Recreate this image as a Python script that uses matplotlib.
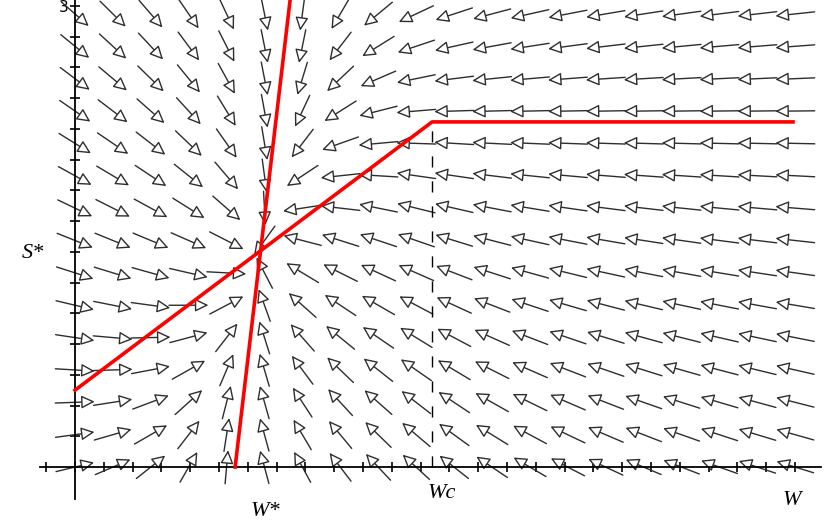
import numpy as np
import matplotlib.pyplot as plt
from matplotlib.patches import FancyArrowPatch

# red nullclines (W on x, S on y)
w_null_W = [5.56, 7.47]          # dW/dt = 0 (steep line)
w_null_S = [0.0, 3.04]
s_null_W = [0.0, 12.4, 24.93]    # dS/dt = 0 (rising line, then flat)
s_null_S = [0.50, 2.245, 2.245]
W_c = 12.4

# direction field grid (20 x 20, like the original plot)
grid_W = np.linspace(0, 25, 20)
grid_S = np.linspace(0, 4, 20)
rate_W, rate_S = 1.0, 0.5

# label positions
labels = ['S*', 'W*', 'Wc', 'W']
label_W = [-1.46, 6.6, 12.75, 24.9]
label_S = [1.386, -0.29, -0.17, -0.215]

fig = plt.figure(figsize=(8.27, 5.27), dpi=100)
ax = fig.add_axes([0, 0, 1, 1])
ax.set_xlim(-2.604, 26.11)
ax.set_ylim(-0.390, 3.038)

# axes through the origin
for s in ['top', 'right']:
    ax.spines[s].set_visible(False)
ax.spines['left'].set_position(('data', 0))
ax.spines['bottom'].set_position(('data', 0))
ax.spines['left'].set_bounds(-0.21, 3.1)
ax.spines['bottom'].set_bounds(-1.2, 25.9)
for s in ['left', 'bottom']:
    ax.spines[s].set_linewidth(1.3)
ax.set_xticks(range(-1, 26))
ax.set_xticklabels([])
yt = np.arange(0, 3.01, 0.2)
ax.set_yticks(yt)
ax.set_yticklabels([''] * (len(yt) - 1) + ['3'])
ax.tick_params(axis='both', direction='inout', length=7, width=1.2)
ax.tick_params(axis='y', labelsize=11, pad=1)
ax.patch.set_visible(False)

# direction field
slope_w = (w_null_W[1] - w_null_W[0]) / (w_null_S[1] - w_null_S[0])
dxg = grid_W[1] - grid_W[0]
dyg = grid_S[1] - grid_S[0]
for S in grid_S:
    for W in grid_W:
        dW = -rate_W * (W - (w_null_W[0] + slope_w * S))
        dS = -rate_S * (S - np.interp(W, s_null_W, s_null_S))
        u, v = dW / dxg, dS / dyg
        n = np.hypot(u, v)
        if n == 0:
            continue
        u, v = u / n * 0.52 * dxg, v / n * 0.52 * dyg
        arr = FancyArrowPatch((W - u, S - v), (W + u, S + v),
                              arrowstyle='-|>,head_length=0.45,head_width=0.22',
                              mutation_scale=18, shrinkA=0, shrinkB=0,
                              color='#2e2e2e', fc='white', lw=1.0, zorder=2)
        ax.add_patch(arr)

# nullclines
ax.plot(w_null_W, w_null_S, color='#ff0000', lw=2.6, zorder=4)
ax.plot(s_null_W, s_null_S, color='#ff0000', lw=2.6, zorder=4)
ax.plot([W_c, W_c], [0, s_null_S[1]], color='black', lw=1, dashes=(8, 10), zorder=3)

for t, x, y in zip(labels, label_W, label_S):
    ax.text(x, y, t, family='Liberation Serif', style='italic', fontsize=16,
            ha='center', va='center')

fig.savefig('out.png', dpi=100)
